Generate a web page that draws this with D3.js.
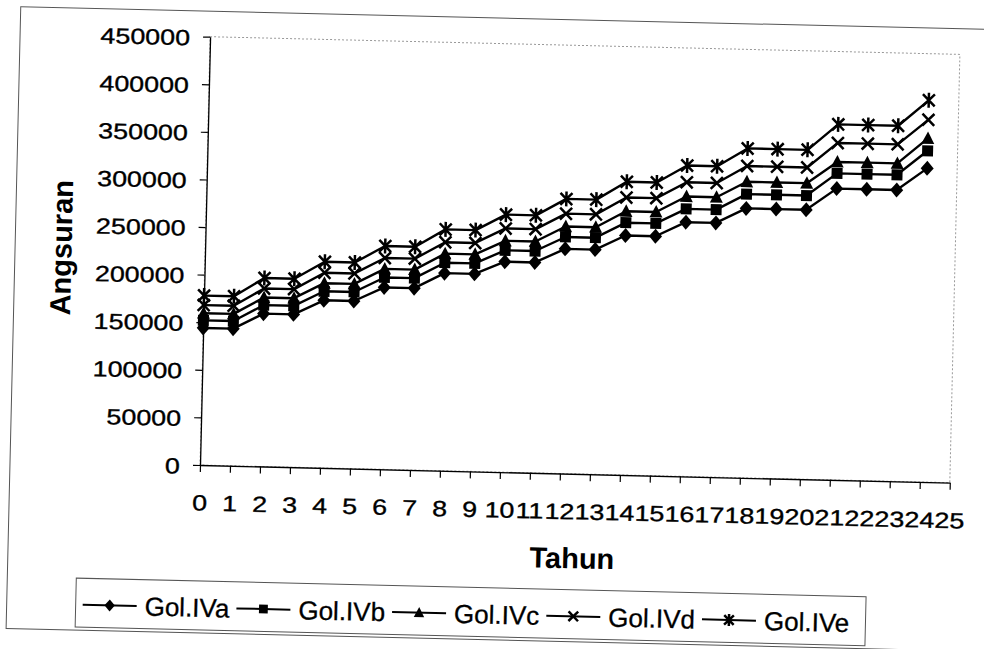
<!DOCTYPE html>
<html>
<head>
<meta charset="utf-8">
<script src="https://cdn.jsdelivr.net/npm/d3@7"></script>
<style>
  html, body { margin: 0; padding: 0; background: #fff; }
  svg { display: block; font-family: "Liberation Sans", Arial, sans-serif; }
</style>
</head>
<body>
<script>
// ---- data ----
const years = ["0","1","2","3","4","5","6","7","8","9","10","11","12","13","14","15","16","17","18","19","20","21","22","23","24","25"];
const yTicks = [0, 50000, 100000, 150000, 200000, 250000, 300000, 350000, 400000, 450000];
const seriesNames = ["Gol.IVa", "Gol.IVb", "Gol.IVc", "Gol.IVd", "Gol.IVe"];
const golIVa = [144000,144000,160500,160500,176000,176000,191000,191000,207500,207500,221000,221000,236000,236000,251500,251500,267000,267000,283000,283000,283000,306000,306000,306000,329500];
const golIVb = [152000,152000,169500,169500,185500,185500,201500,201500,218500,218500,233000,233000,248500,248500,265000,265000,281000,281000,298000,298000,298000,322000,322000,322000,348000];
const golIVc = [159500,159500,177500,177500,194000,194000,210500,210500,228000,228000,243000,243000,259500,259500,277000,277000,294000,294000,311000,311000,311000,334000,334000,334000,361000];
const golIVd = [168000,168000,187000,187000,205000,205000,222000,222000,240000,240000,256000,256000,273000,273000,291500,291500,309000,309000,327500,327500,327500,354000,354000,354000,380500];
const golIVe = [178000,178000,198000,198000,216500,216500,234500,234500,253500,253500,270500,270500,288500,288500,308000,308000,326500,326500,346000,346000,346000,373500,373500,373500,401000];
const markerTypes = ["diamond", "square", "triangle", "x", "star"];

// ---- chart ----
const series = [golIVa, golIVb, golIVc, golIVd, golIVe].map((v, i) => ({name: seriesNames[i], values: v, marker: markerTypes[i]}));

const svg = d3.select("body").append("svg").attr("width", 984).attr("height", 649);
svg.append("rect").attr("width", 984).attr("height", 649).attr("fill", "#fff");

// the scanned original is slightly tilted
const g = svg.append("g").attr("transform", "rotate(1.35,200,465)");

// outer chart frame
g.append("rect").attr("x", 10).attr("y", 11).attr("width", 990).attr("height", 622)
  .attr("fill", "none").attr("stroke", "#555").attr("stroke-width", 1);

const x = d3.scalePoint().domain(years).range([200, 950]);
const y = d3.scaleLinear().domain([0, 450000]).range([465, 36.6]);

// plot area border
g.append("rect").attr("x", 200).attr("y", y(450000)).attr("width", 750).attr("height", y(0) - y(450000))
  .attr("fill", "none").attr("stroke", "#999").attr("stroke-width", 1).attr("stroke-dasharray", "2,2");

const STRETCH = 1.22;
function stretchText(sel, anchor) {
  sel.each(function() {
    const t = d3.select(this);
    const w = this.getComputedTextLength();
    const tw = w * STRETCH;
    t.attr("textLength", tw).attr("lengthAdjust", "spacingAndGlyphs").attr("text-anchor", "start");
    const ax = anchor === "end" ? -20 - tw : -tw / 2;
    t.attr("x", ax);
  });
}

// y axis
const yAxis = g.append("g").attr("transform", "translate(200,0)")
  .call(d3.axisLeft(y).tickValues(yTicks).tickSize(7).tickSizeOuter(0).tickFormat(d3.format("d")));
yAxis.selectAll("path.domain").attr("stroke", "#000").attr("stroke-width", 1.3);
yAxis.selectAll(".tick line").attr("stroke", "#000").attr("stroke-width", 1.2);
yAxis.selectAll(".tick text").attr("font-size", 22).attr("fill", "#000")
  .attr("stroke", "#000").attr("stroke-width", 0.35)
  .attr("font-family", "Liberation Sans, Arial, sans-serif").attr("dy", null).attr("y", 8.5)
  .call(stretchText, "end");

// x axis
const xAxis = g.append("g").attr("transform", "translate(0,465)")
  .call(d3.axisBottom(x).tickSize(7).tickSizeOuter(0));
xAxis.selectAll("path.domain").attr("stroke", "#000").attr("stroke-width", 1.3);
xAxis.selectAll(".tick line").attr("stroke", "#000").attr("stroke-width", 1.2);
xAxis.selectAll(".tick text").attr("font-size", 22).attr("fill", "#000")
  .attr("stroke", "#000").attr("stroke-width", 0.35)
  .attr("font-family", "Liberation Sans, Arial, sans-serif").attr("dy", null).attr("y", 45.5)
  .call(stretchText, "middle");

// axis titles
g.append("text").attr("transform", "translate(56,251) rotate(-90)")
  .attr("text-anchor", "middle").attr("dy", "0.36em")
  .attr("font-size", 29).attr("font-weight", "bold").text("Angsuran");
g.append("text").attr("x", 574).attr("y", 559.5)
  .attr("text-anchor", "middle").attr("font-size", 29).attr("font-weight", "bold").text("Tahun");

// markers
function drawMarker(sel, type, s) {
  s = s || 1;
  if (type === "diamond") {
    sel.append("path").attr("d", `M0,${-7.5*s}L${6.5*s},0L0,${7.5*s}L${-6.5*s},0Z`).attr("fill", "#000");
  } else if (type === "square") {
    sel.append("rect").attr("x", -5.5*s).attr("y", -5.5*s).attr("width", 11*s).attr("height", 11*s).attr("fill", "#000");
  } else if (type === "triangle") {
    sel.append("path").attr("d", `M0,${-7*s}L${6.5*s},${5.5*s}L${-6.5*s},${5.5*s}Z`).attr("fill", "#000");
  } else if (type === "x") {
    sel.append("path").attr("d", `M${-6*s},${-6*s}L${6*s},${6*s}M${-6*s},${6*s}L${6*s},${-6*s}`)
      .attr("stroke", "#000").attr("stroke-width", 2.5).attr("fill", "none");
  } else if (type === "star") {
    sel.append("path").attr("d", `M${-6*s},${-6*s}L${6*s},${6*s}M${-6*s},${6*s}L${6*s},${-6*s}M0,${-7.5*s}L0,${7.5*s}`)
      .attr("stroke", "#000").attr("stroke-width", 2.5).attr("fill", "none");
  }
}

const line = d3.line().x((d, i) => x(years[i])).y(d => y(d));
const plot = g.append("g");
series.forEach(s => {
  plot.append("path").attr("d", line(s.values)).attr("fill", "none")
    .attr("stroke", "#000").attr("stroke-width", 2.4).attr("stroke-linejoin", "round");
});
series.forEach(s => {
  s.values.forEach((v, i) => {
    const m = plot.append("g").attr("transform", `translate(${x(years[i])},${y(v)})`);
    drawMarker(m, s.marker, 1);
  });
});

// legend
const legend = g.append("g");
legend.append("rect").attr("x", 79).attr("y", 581).attr("width", 790).attr("height", 49)
  .attr("fill", "#fff").attr("stroke", "#555").attr("stroke-width", 1);
let lx = 86;
const ly = 607.5;
series.forEach(s => {
  legend.append("line").attr("x1", lx).attr("x2", lx + 54).attr("y1", ly).attr("y2", ly)
    .attr("stroke", "#000").attr("stroke-width", 2);
  drawMarker(legend.append("g").attr("transform", `translate(${lx + 27},${ly})`), s.marker, 0.8);
  const t = legend.append("text").attr("x", lx + 62).attr("y", ly + 9.3)
    .attr("font-size", 26).attr("fill", "#000").attr("stroke", "#000").attr("stroke-width", 0.3).text(s.name);
  lx = lx + 62 + t.node().getComputedTextLength() + 7;
});
</script>
</body>
</html>
